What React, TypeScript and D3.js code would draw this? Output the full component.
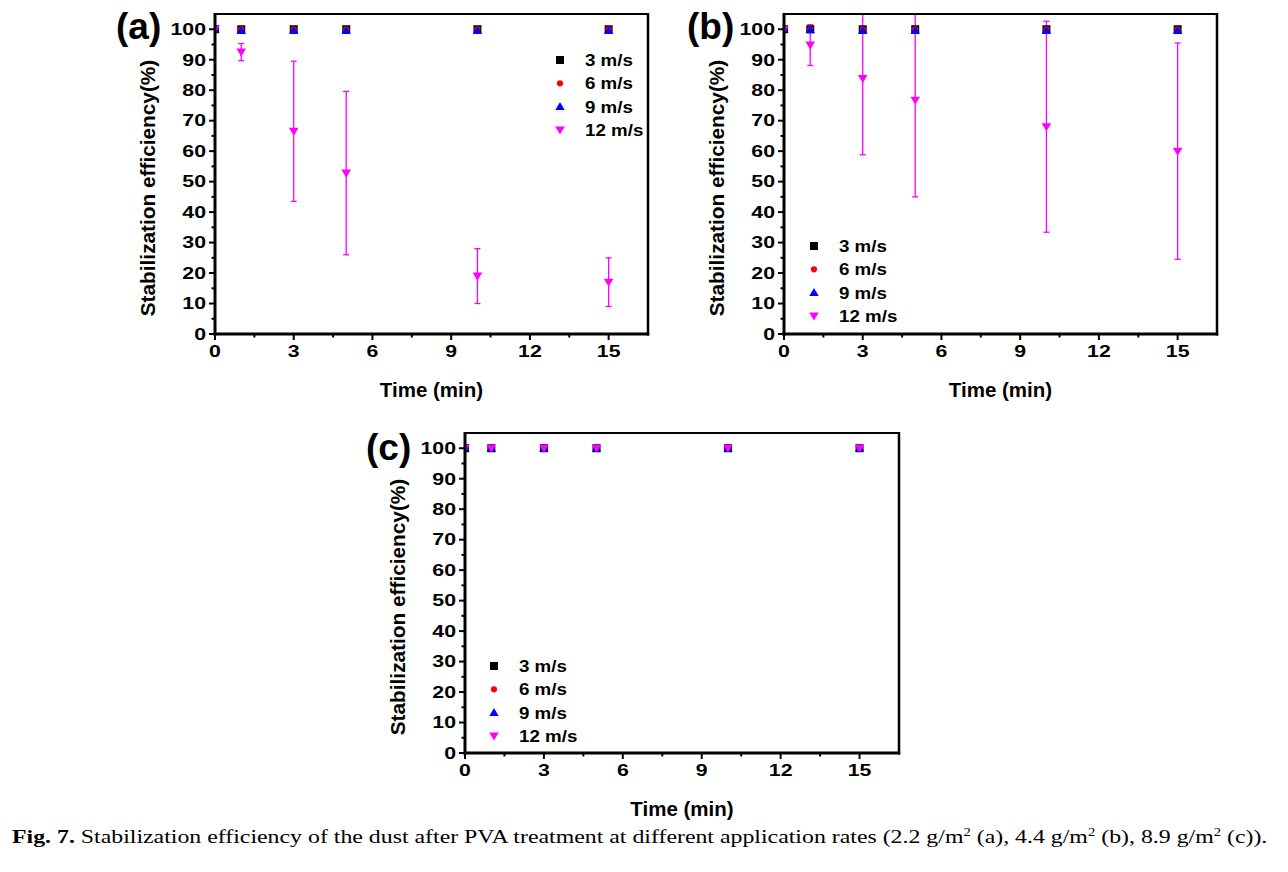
import React, { useEffect, useRef } from "react";
import * as d3 from "d3";

const times = [0, 1, 3, 5, 10, 15];
const speeds = ["3 m/s", "6 m/s", "9 m/s", "12 m/s"];
const colors = ["#000000", "#FF0000", "#0000FF", "#FF00FF"];
const yTicks = [0, 10, 20, 30, 40, 50, 60, 70, 80, 90, 100];
const xTicks = [0, 3, 6, 9, 12, 15];

// panel (a) 2.2 g/m2
const a3 = [100, 100, 100, 100, 100, 100];
const a6 = [100, 100, 100, 100, 100, 100];
const a9 = [100, 99.5, 99.5, 99.5, 99.5, 99.5];
const a12 = [100, 92.5, 66.5, 52.8, 19, 17];
const a12err = [0, 2.8, 23, 26.8, 9, 8];
// panel (b) 4.4 g/m2
const b3 = [100, 100, 100, 100, 100, 100];
const b6 = [100, 100, 100, 100, 100, 100];
const b9 = [100, 99.8, 99.5, 99.5, 99.5, 99.5];
const b12 = [100, 94.8, 83.8, 76.7, 68, 60];
const b12err = [0, 6.7, 25, 31.7, 34.6, 35.5];
// panel (c) 8.9 g/m2
const c3 = [100, 100, 100, 100, 100, 100];
const c6 = [100, 100, 100, 100, 100, 100];
const c9 = [100, 100, 100, 100, 100, 100];
const c12 = [100, 100, 100, 100, 100, 100];
const c12err = [0, 0, 0, 0, 0, 0];

const panels = [
  { id: "a", label: "(a)", series: [a3, a6, a9, a12], err: a12err,
    box: { l: 215, t: 14, r: 648, b: 334 }, legend: { x: 560, y: 60 }, labelPos: { x: 116, y: 39 } },
  { id: "b", label: "(b)", series: [b3, b6, b9, b12], err: b12err,
    box: { l: 784, t: 14, r: 1217, b: 334 }, legend: { x: 814, y: 246 }, labelPos: { x: 687, y: 39 } },
  { id: "c", label: "(c)", series: [c3, c6, c9, c12], err: c12err,
    box: { l: 465, t: 433, r: 899, b: 753 }, legend: { x: 494, y: 666 }, labelPos: { x: 366, y: 460 } },
];

const SANS = "'Liberation Sans', Arial, sans-serif";

function markerPath(i: number): string {
  if (i === 0) return "M-4,-4H4V4H-4Z";
  if (i === 1) return d3.symbol(d3.symbolCircle, 30)() as string;
  if (i === 2) return "M0,-4.7L4.7,3.3L-4.7,3.3Z";
  return "M-4.8,-3.5L4.8,-3.5L0,4.6Z";
}

export default function App() {
  const ref = useRef<SVGSVGElement>(null);
  useEffect(() => {
    const svg = d3.select(ref.current);
    svg.selectAll("*").remove();

    panels.forEach((p) => {
      const x = d3.scaleLinear().domain([0, 16.5]).range([p.box.l, p.box.r]);
      const y = d3.scaleLinear().domain([0, 105]).range([p.box.b, p.box.t]);
      const g = svg.append("g");
      const clipId = "clip-" + p.id;
      g.append("clipPath").attr("id", clipId).append("rect")
        .attr("x", p.box.l).attr("y", p.box.t)
        .attr("width", p.box.r - p.box.l).attr("height", p.box.b - p.box.t);

      const plot = g.append("g").attr("clip-path", `url(#${clipId})`);
      // error bars for 12 m/s
      times.forEach((t, k) => {
        const e = p.err[k];
        if (!e) return;
        const v = p.series[3][k];
        const cx = x(t);
        plot.append("line").attr("x1", cx).attr("x2", cx)
          .attr("y1", y(v + e)).attr("y2", y(v - e))
          .attr("stroke", "#F0F").attr("stroke-width", 1.3);
        [v + e, v - e].forEach((yy) => {
          plot.append("line").attr("x1", cx - 3).attr("x2", cx + 3)
            .attr("y1", y(yy)).attr("y2", y(yy))
            .attr("stroke", "#F0F").attr("stroke-width", 1.3);
        });
      });
      p.series.forEach((s, i) => {
        s.forEach((v, k) => {
          plot.append("path").attr("d", markerPath(i))
            .attr("transform", `translate(${x(times[k])},${y(v)})`)
            .attr("fill", colors[i]);
        });
      });

      // frame
      g.append("line").attr("x1", p.box.l).attr("x2", p.box.r).attr("y1", p.box.t).attr("y2", p.box.t)
        .attr("stroke", "#000").attr("stroke-width", 2);
      g.append("line").attr("x1", p.box.r).attr("x2", p.box.r).attr("y1", p.box.t - 1).attr("y2", p.box.b + 1.5)
        .attr("stroke", "#000").attr("stroke-width", 2.5);
      g.append("line").attr("x1", p.box.l).attr("x2", p.box.l).attr("y1", p.box.t - 1).attr("y2", p.box.b + 1.5)
        .attr("stroke", "#000").attr("stroke-width", 3);
      g.append("line").attr("x1", p.box.l - 1.5).attr("x2", p.box.r + 1.2).attr("y1", p.box.b).attr("y2", p.box.b)
        .attr("stroke", "#000").attr("stroke-width", 3);

      // y ticks
      d3.range(0, 101, 5).forEach((v) => {
        const major = v % 10 === 0;
        g.append("line").attr("x1", p.box.l).attr("x2", p.box.l - (major ? 6 : 3.5))
          .attr("y1", y(v)).attr("y2", y(v)).attr("stroke", "#000").attr("stroke-width", 2);
      });
      yTicks.forEach((v) => {
        g.append("text").attr("transform", `translate(${p.box.l - 9},${y(v) + 5.8}) scale(1.33,1)`)
          .attr("text-anchor", "end").attr("font-family", SANS).attr("font-weight", "bold")
          .attr("font-size", 16).text(String(v));
      });
      // x ticks
      d3.range(0, 16.5, 1.5).forEach((v) => {
        const major = Math.abs(v % 3) < 1e-9;
        g.append("line").attr("x1", x(v)).attr("x2", x(v))
          .attr("y1", p.box.b).attr("y2", p.box.b + (major ? 6 : 3.5)).attr("stroke", "#000").attr("stroke-width", 2);
      });
      xTicks.forEach((v) => {
        g.append("text").attr("transform", `translate(${x(v)},${p.box.b + 23}) scale(1.33,1)`)
          .attr("text-anchor", "middle").attr("font-family", SANS).attr("font-weight", "bold")
          .attr("font-size", 16).text(String(v));
      });

      // axis titles
      g.append("text").attr("x", (p.box.l + p.box.r) / 2).attr("y", p.box.b + 63)
        .attr("text-anchor", "middle").attr("font-family", SANS).attr("font-weight", "bold")
        .attr("font-size", 20.5).text("Time (min)");
      g.append("text").attr("transform", `translate(${p.box.l - 60},${(p.box.t + p.box.b) / 2 + 14}) rotate(-90)`)
        .attr("text-anchor", "middle").attr("font-family", SANS).attr("font-weight", "bold")
        .attr("font-size", 20.8).text("Stabilization efficiency(%)");

      // panel label
      g.append("text").attr("x", p.labelPos.x).attr("y", p.labelPos.y)
        .attr("font-family", SANS).attr("font-weight", "bold").attr("font-size", 37).text(p.label);

      // legend
      speeds.forEach((s, i) => {
        const ly = p.legend.y + i * 23.3;
        g.append("path").attr("d", markerPath(i)).attr("transform", `translate(${p.legend.x},${ly})`)
          .attr("fill", colors[i]);
        g.append("text").attr("transform", `translate(${p.legend.x + 25},${ly + 6}) scale(1.15,1)`)
          .attr("font-family", SANS).attr("font-weight", "bold").attr("font-size", 16.3).text(s);
      });
    });

    // caption
    const cap = svg.append("text").attr("font-family", "'Liberation Serif', 'Times New Roman', serif")
      .attr("font-size", 19.5).attr("x", 0).attr("y", 0);
    cap.append("tspan").attr("font-weight", "bold").text("Fig. 7.");
    cap.append("tspan").text(" Stabilization efficiency of the dust after PVA treatment at different application rates (2.2 g/m");
    cap.append("tspan").attr("font-size", 12).attr("dy", -7).text("2");
    cap.append("tspan").attr("dy", 7).text(" (a), 4.4 g/m");
    cap.append("tspan").attr("font-size", 12).attr("dy", -7).text("2");
    cap.append("tspan").attr("dy", 7).text(" (b), 8.9 g/m");
    cap.append("tspan").attr("font-size", 12).attr("dy", -7).text("2");
    cap.append("tspan").attr("dy", 7).text(" (c)).");
    const w = (cap.node() as SVGTextElement).getBBox().width;
    const sx = 1256 / w;
    cap.attr("transform", `translate(12,843) scale(${sx},1)`);
  }, []);

  return (
    <svg ref={ref} width={1288} height={872}
      style={{ position: "absolute", left: 0, top: 0, background: "#fff" }} />
  );
}
